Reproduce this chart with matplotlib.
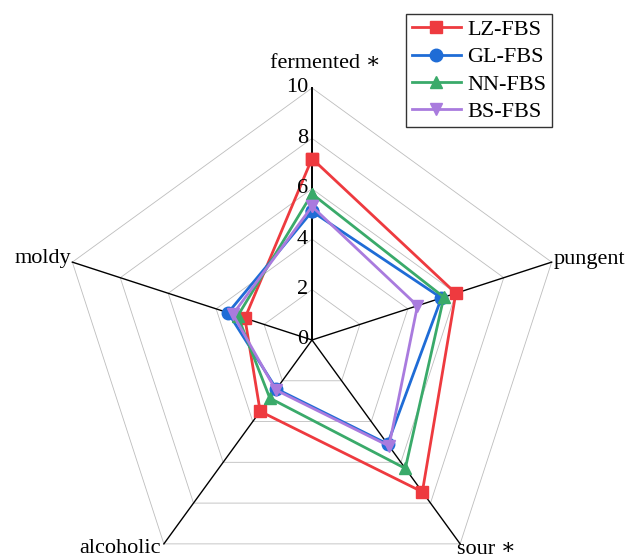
import numpy as np
import matplotlib
matplotlib.use("Agg")
import matplotlib.pyplot as plt

plt.rcParams['font.family'] = ['Liberation Serif', 'DejaVu Serif']

categories = ["fermented ∗", "pungent", "sour ∗", "alcoholic", "moldy"]
series_names = ["LZ-FBS", "GL-FBS", "NN-FBS", "BS-FBS"]
lz = [7.2, 6.0, 7.45, 3.5, 2.8]
gl = [5.1, 5.4, 5.1, 2.4, 3.5]
nn = [5.8, 5.5, 6.3, 2.85, 3.1]
bs = [5.3, 4.4, 5.2, 2.45, 3.3]
ticks = [0, 2, 4, 6, 8, 10]

colors = ["#EE3A3F", "#1F6CD6", "#3AAA6A", "#A97BDE"]
markers = ["s", "o", "^", "v"]
values = [lz, gl, nn, bs]

fig = plt.figure(figsize=(6.28, 5.60), dpi=100)
W, H = 628, 560
cx, cy, R = 312, 340, 252
ax = fig.add_axes([(cx - R) / W, (H - cy - R) / H, 2 * R / W, 2 * R / H], polar=True)
ax.set_theta_offset(np.pi / 2)
ax.set_theta_direction(-1)
ax.set_ylim(0, 10)
ax.grid(False)
ax.spines['polar'].set_visible(False)
ax.set_xticks([])
ax.set_yticks([])
ax.patch.set_alpha(0)

n = len(categories)
theta = np.linspace(0, 2 * np.pi, n, endpoint=False)
theta_closed = np.append(theta, theta[0])

# pentagon grid
for t in ticks[1:]:
    ax.plot(theta_closed, [t] * (n + 1), color="#bdbdbd", lw=0.6, zorder=1, clip_on=False)
# spokes
for i, th in enumerate(theta):
    ax.plot([th, th], [0, 10], color="black", lw=1.4 if i == 0 else 1.0, zorder=2, clip_on=False)

for name, vals, c, m in zip(series_names, values, colors, markers):
    v = np.append(vals, vals[0])
    ax.plot(theta_closed, v, color=c, lw=2.0, marker=m, markersize=9,
            label=name, zorder=3, clip_on=False)

# tick labels along first axis
for t in ticks:
    ax.annotate(str(t), xy=(0, t), xytext=(-4, 0), textcoords='offset pixels',
                ha='right', va='center', fontsize=16, annotation_clip=False)

# category labels
offsets = [((13, 25), 'center', 'center'),
           ((2, 3), 'left', 'center'),
           ((-3, -6), 'left', 'center'),
           ((-3, -5), 'right', 'center'),
           ((-1, 4), 'right', 'center')]
for th, lab, (off, ha, va) in zip(theta, categories, offsets):
    ax.annotate(lab, xy=(th, 10), xytext=off, textcoords='offset pixels',
                ha=ha, va=va, fontsize=16, annotation_clip=False)

leg = fig.legend(loc='upper right', bbox_to_anchor=(552 / W, 1 - 14 / H),
                 fontsize=16, frameon=True, fancybox=False, edgecolor='black',
                 handlelength=2.2, handletextpad=0.3, labelspacing=0.3,
                 borderpad=0.25, borderaxespad=0)
leg.get_frame().set_linewidth(1.0)

fig.savefig("out.png", dpi=100)
